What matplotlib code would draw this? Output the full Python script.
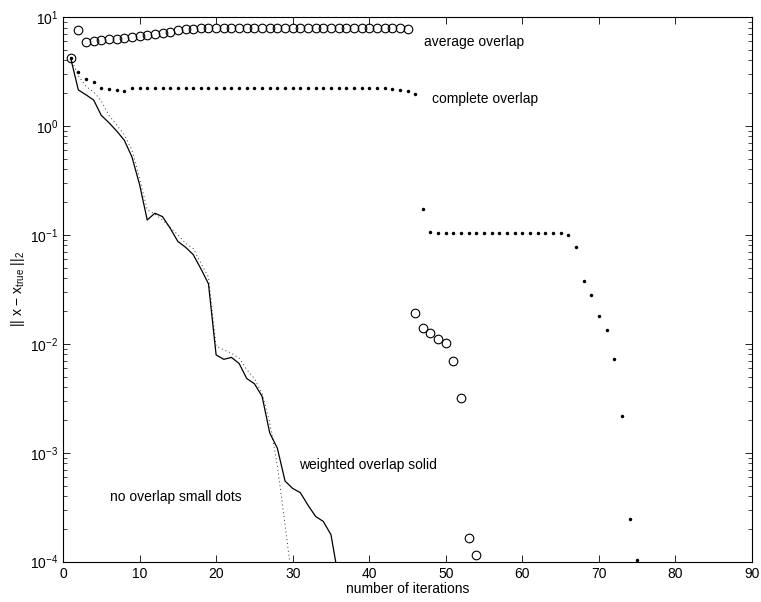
import numpy as np
import matplotlib
matplotlib.use('Agg')
import matplotlib.pyplot as plt
from matplotlib.ticker import LogLocator, NullFormatter, MultipleLocator

plt.rcParams['font.family'] = ['Liberation Sans', 'DejaVu Sans']
plt.rcParams['mathtext.fontset'] = 'custom'
plt.rcParams['mathtext.rm'] = 'Liberation Sans'
plt.rcParams['mathtext.it'] = 'Liberation Sans:italic'
plt.rcParams['mathtext.default'] = 'regular'

# error norm per iteration for each overlap scheme
avg_iters = list(range(1, 46)) + list(range(46, 55))
avg_err = [4.2, 7.6, 5.93, 6.06, 6.15, 6.24, 6.32, 6.41, 6.56, 6.70,
           6.84, 6.98, 7.13, 7.33, 7.55, 7.71, 7.81, 7.88, 7.88, 7.88,
           7.88, 7.88, 7.88, 7.88, 7.88, 7.88, 7.88, 7.88, 7.88, 7.88,
           7.88, 7.88, 7.88, 7.88, 7.88, 7.88, 7.88, 7.88, 7.88, 7.88,
           7.88, 7.88, 7.88, 7.88, 7.80,
           0.0191, 0.0141, 0.0125, 0.0111, 0.0101, 0.0070, 0.0032, 1.65e-4, 1.16e-4]

comp_iters = list(range(1, 76))
comp_err = [4.2, 3.15, 2.70, 2.52, 2.24, 2.17, 2.14, 2.09, 2.24, 2.21,
            2.21, 2.21, 2.21, 2.21, 2.21, 2.21, 2.21, 2.21, 2.21, 2.21,
            2.21, 2.21, 2.21, 2.21, 2.21, 2.21, 2.21, 2.21, 2.21, 2.21,
            2.21, 2.21, 2.21, 2.21, 2.21, 2.21, 2.21, 2.21, 2.21, 2.21,
            2.21, 2.21, 2.18, 2.14, 2.09, 1.97,
            0.172, 0.107, 0.105, 0.105, 0.105, 0.105, 0.105, 0.105, 0.105, 0.105,
            0.105, 0.105, 0.105, 0.105, 0.105, 0.105, 0.105, 0.105, 0.105, 0.1007,
            0.078, 0.038, 0.028, 0.018, 0.0133, 0.0072, 0.00217, 2.48e-4, 1.03e-4]

wt_iters = list(range(1, 37))
wt_err = [4.2, 2.14, 1.93, 1.73, 1.25, 1.07, 0.90, 0.74, 0.52, 0.29,
          0.137, 0.158, 0.147, 0.115, 0.087, 0.077, 0.066, 0.049, 0.0355, 0.0079,
          0.0072, 0.0075, 0.0066, 0.0048, 0.0043, 0.0033, 0.00152, 0.0011, 0.00055, 0.00047,
          0.00043, 0.00033, 0.00026, 0.000234, 0.000177, 0.00007]

no_iters = list(range(1, 31))
no_err = [4.2, 2.9, 2.3, 2.05, 1.7, 1.25, 1.02, 0.83, 0.6, 0.33,
          0.17, 0.155, 0.137, 0.117, 0.100, 0.084, 0.075, 0.055, 0.041, 0.0095,
          0.0088, 0.0082, 0.0074, 0.0058, 0.0048, 0.0035, 0.0019, 0.00076, 0.00022, 0.00006]

fig = plt.figure(figsize=(7.61, 6.02), dpi=100)
ax = fig.add_axes([0.0828, 0.067, 0.9054, 0.9048])

ax.semilogy(no_iters, no_err, color='#333333', lw=0.7, linestyle=(0, (1, 3)))
ax.semilogy(wt_iters, wt_err, color='black', lw=0.9)
ax.semilogy(avg_iters, avg_err, 'o', ms=6.2, mfc='none', mec='black', mew=0.8)
ax.semilogy(comp_iters, comp_err, 'o', ms=2.5, mfc='black', mec='black', mew=0)

ax.set_xlim(0, 90)
ax.set_ylim(1e-4, 10)
ax.xaxis.set_major_locator(MultipleLocator(10))
ax.yaxis.set_major_locator(LogLocator(base=10, numticks=10))
ax.yaxis.set_minor_locator(LogLocator(base=10, subs=np.arange(2, 10), numticks=20))
ax.yaxis.set_minor_formatter(NullFormatter())
ax.tick_params(which='both', direction='in', top=True, right=True, labelsize=10)
ax.tick_params(which='major', length=5, width=0.6)
ax.tick_params(which='minor', length=3, width=0.5)
for s in ax.spines.values():
    s.set_linewidth(0.8)

ax.set_xlabel('number of iterations', fontsize=10, labelpad=1)
ax.set_ylabel(r'|| x $-$ x$_{true}$ ||$_2$', fontsize=10, labelpad=2)

ax.text(47.1, 5.93, 'average overlap', fontsize=10, va='center')
ax.text(48.2, 1.76, 'complete overlap', fontsize=10, va='center')
ax.text(30.8, 7.76e-4, 'weighted overlap solid', fontsize=10, va='center')
ax.text(6.2, 3.9e-4, 'no overlap small dots', fontsize=10, va='center')

fig.savefig('out.png', dpi=100)
